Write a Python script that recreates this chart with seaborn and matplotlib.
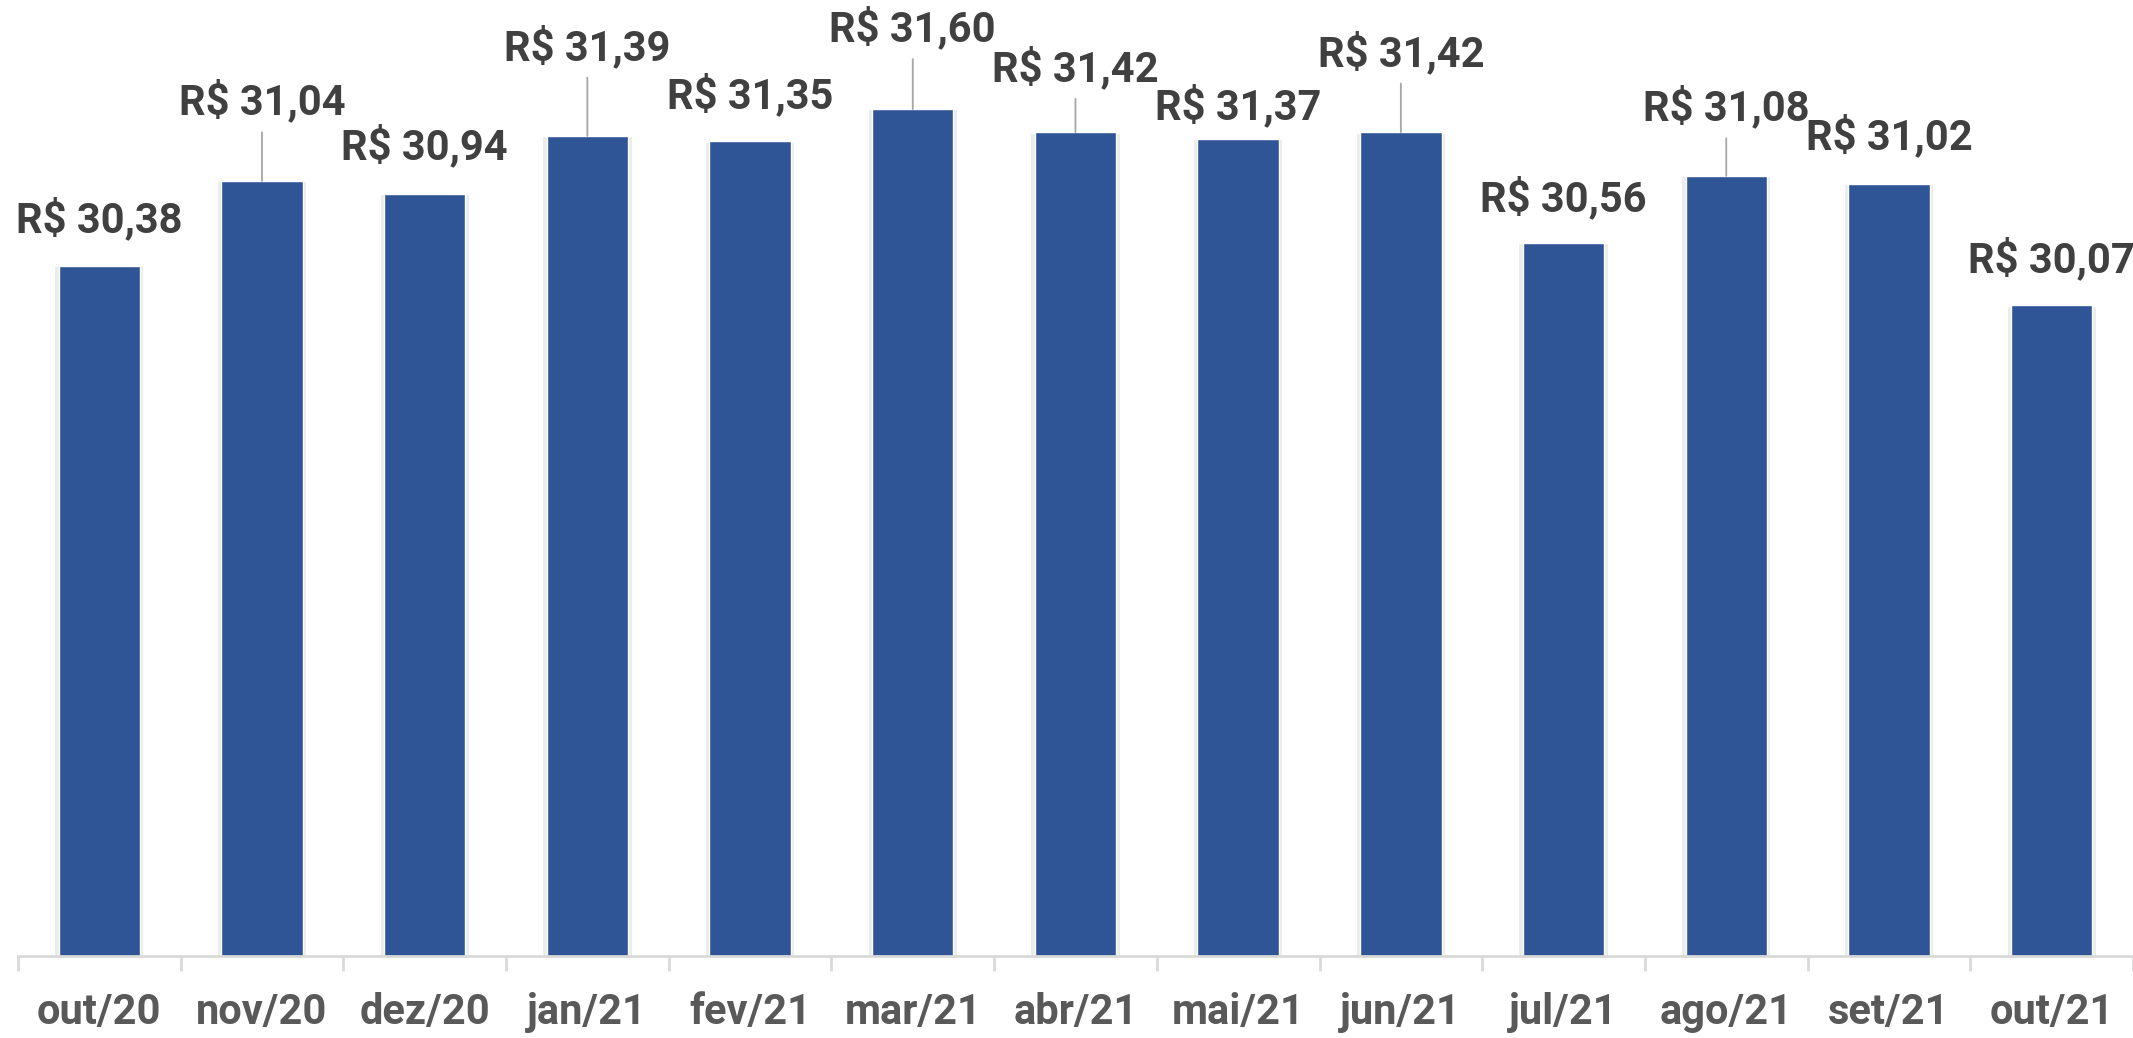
import numpy as np
import matplotlib
matplotlib.use("Agg")
import matplotlib.pyplot as plt
import matplotlib.patheffects as pe
import pandas as pd
import seaborn as sb

# valores
meses = ["out/20", "nov/20", "dez/20", "jan/21", "fev/21", "mar/21", "abr/21",
         "mai/21", "jun/21", "jul/21", "ago/21", "set/21", "out/21"]
precos = [30.38, 31.04, 30.94, 31.39, 31.35, 31.60, 31.42,
          31.37, 31.42, 30.56, 31.08, 31.02, 30.07]

# deslocamento dos rótulos (pontos) e quais têm linha de chamada
lift = [33, 57, 34, 64, 33, 58, 46, 23, 57, 32, 49, 34, 33]
leader = [False, True, False, True, False, True, True, False, True, False, True, False, False]

data = pd.DataFrame({"mes": meses, "preco": precos})

sb.set_style("white")
plt.rcParams["font.family"] = ["Roboto", "DejaVu Sans"]

fig = plt.figure(figsize=(21.33, 10.38), dpi=100)
ax = fig.add_axes([0.0084, 0.079, 0.9916, 0.921])

sb.barplot(data=data, x="mes", y="preco", color="#2F5597", width=0.5,
           saturation=1, ax=ax)
for bar in ax.patches:
    bar.set_path_effects([pe.SimplePatchShadow(offset=(2.5, -1), alpha=0.15,
                                               shadow_rgbFace="gray"),
                          pe.SimplePatchShadow(offset=(-2.5, -1), alpha=0.15,
                                               shadow_rgbFace="gray"),
                          pe.Normal()])

ax.set_ylim(25, 32.45)
ax.set_xlim(-0.5, len(meses) - 0.5)

for i, v in enumerate(precos):
    txt = "R$ " + f"{v:.2f}".replace(".", ",")
    ax.annotate(txt, xy=(i, v), xytext=(0, lift[i]), textcoords="offset points",
                ha="center", va="center", fontsize=30, fontweight="bold",
                color="#404040", annotation_clip=False)
    if leader[i]:
        ax.annotate("", xy=(i, v), xytext=(0, lift[i] - 22), textcoords="offset points",
                    arrowprops=dict(arrowstyle="-", color="#a6a6a6", lw=1.3,
                                    shrinkA=0, shrinkB=0))

for s in ["top", "right", "left"]:
    ax.spines[s].set_visible(False)
ax.spines["bottom"].set_color("#d9d9d9")
ax.spines["bottom"].set_linewidth(2)

ax.set_yticks([])
ax.set_xlabel("")
ax.set_ylabel("")
ax.set_xticks(np.arange(-0.5, len(meses)), minor=True)
ax.tick_params(axis="x", which="minor", bottom=True, length=11, width=2,
               color="#d9d9d9")
ax.tick_params(axis="x", which="major", bottom=False, length=0, pad=26,
               labelsize=30, labelcolor="#595959")
for lab in ax.get_xticklabels():
    lab.set_fontweight("bold")

fig.savefig("out.png", dpi=100)
